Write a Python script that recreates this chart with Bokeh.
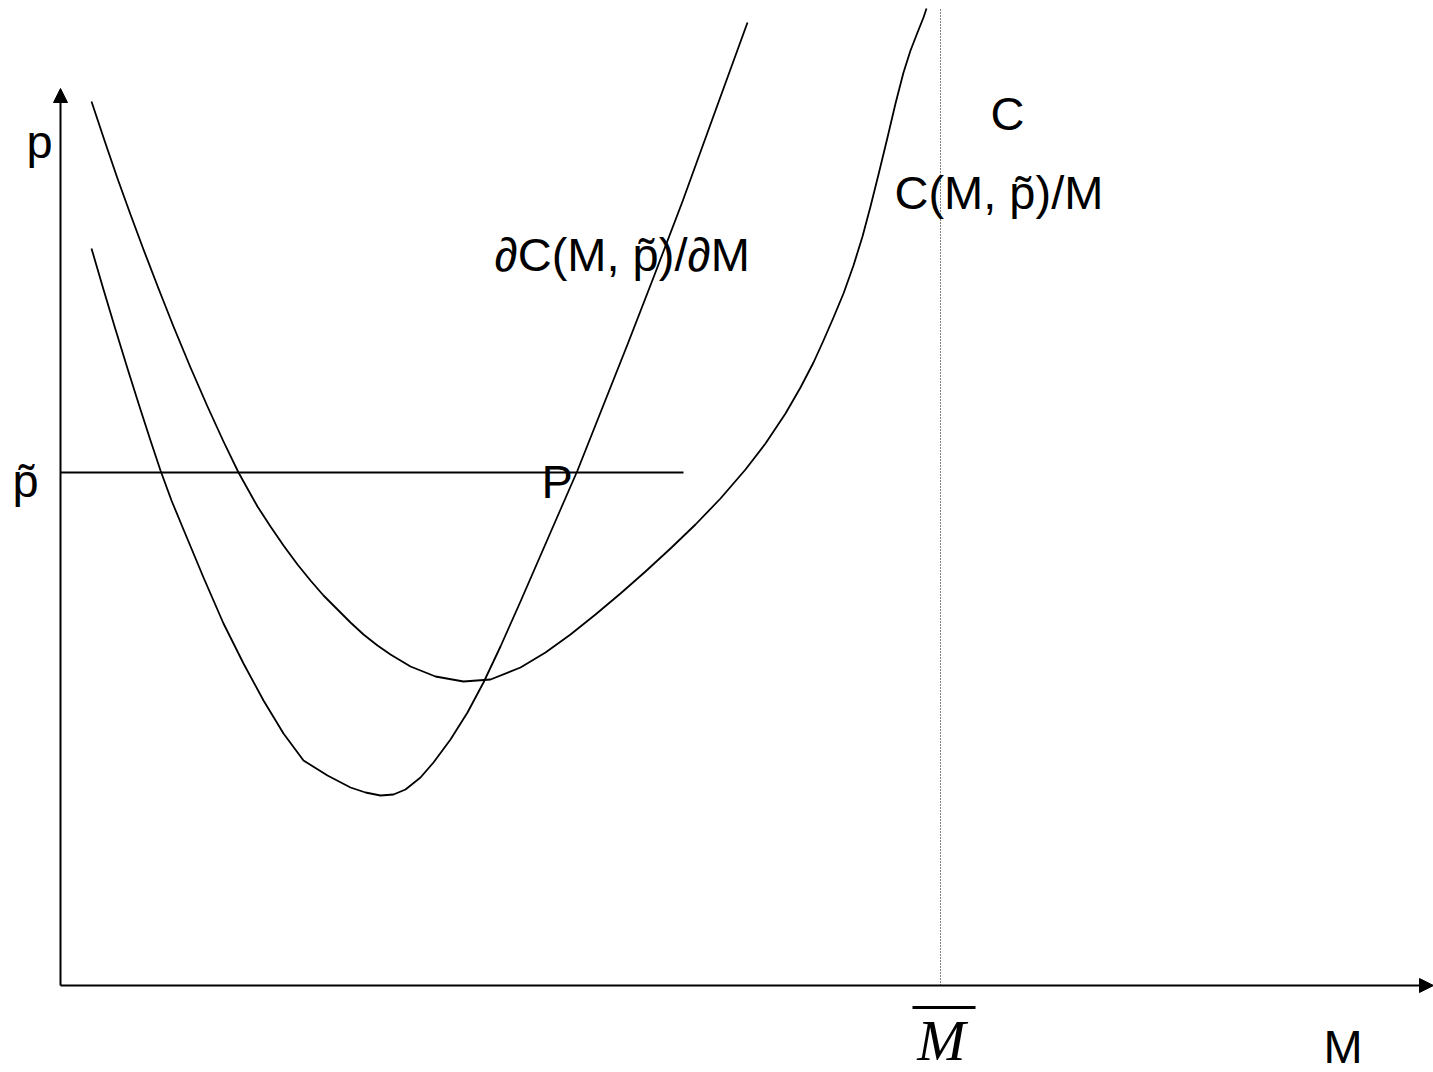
from bokeh.plotting import figure
from bokeh.models import Range1d, Arrow, NormalHead
from bokeh.core.properties import value
from bokeh.embed import file_html
from bokeh.resources import INLINE

# ---- data (M on horizontal axis, p on vertical axis, arbitrary units) ----
# marginal cost  dC(M, p~)/dM
mc_M = [31, 43, 55, 67, 79, 90, 100, 111, 123, 143, 163, 183, 203, 223, 243, 267, 290, 305, 320,
        333, 345, 360, 373, 390, 407, 423, 440, 460, 480, 500, 517, 540, 567, 593, 622, 655, 687]
mc_p = [737, 696, 656, 617, 579, 545, 515, 485, 456, 408, 362, 322, 285, 252, 225, 210, 198, 193, 190,
        191, 196, 208, 223, 246, 273, 303, 339, 384, 430, 476, 515, 573, 641, 708, 784, 875, 963]

# average cost  C(M, p~)/M
ac_M = [31, 44, 57, 70, 83, 98, 113, 130, 147, 163, 178, 197, 210, 223, 237, 250, 263, 277, 290,
        303, 317, 330, 350, 375, 403, 430, 460, 485, 510, 535, 560, 585, 610, 635, 660, 685, 705,
        725, 740, 753, 763, 773, 783, 793, 802, 810, 818, 827, 835, 843, 850, 857, 863, 866]
ac_p = [884, 845, 807, 771, 736, 697, 659, 618, 579, 544, 513, 479, 459, 440, 421, 405, 390, 376, 363,
        351, 340, 331, 319, 309, 304, 306, 318, 333, 351, 371, 392, 414, 437, 461, 487, 516, 542,
        572, 598, 623, 645, 668, 692, 720, 749, 779, 811, 848, 882, 913, 935, 953, 968, 977]

p_tilde = 513          # level of the horizontal price line
p_line_M = [0, 623]    # extent of the horizontal price line
M_bar = 880            # capacity limit (dotted vertical)
axis_M_max = 1373
axis_p_max = 897

TILDE_P = "p\u0303"
labels_text = ["p", TILDE_P, "P", "C", "C(M, " + TILDE_P + ")/M",
               "\u2202C(M, " + TILDE_P + ")/\u2202M", "M"]
labels_M = [-34, -48, 481, 930, 834, 434, 1263]
labels_p = [844, 505, 504, 872, 793, 731, -61]

# ---- figure ----
W, H = 1433, 1072
p = figure(width=W, height=H, output_backend="svg", toolbar_location=None,
           x_range=Range1d(-60, 1373), y_range=Range1d(-87, 985),
           min_border=0, min_border_left=0, min_border_right=0,
           min_border_top=0, min_border_bottom=0)
p.axis.visible = False
p.grid.visible = False
p.outline_line_color = None
p.background_fill_color = "white"
p.border_fill_color = "white"

# axes with arrow heads
p.add_layout(Arrow(end=NormalHead(size=14, fill_color="black", line_color="black", line_width=1),
                   x_start=0, y_start=0, x_end=0, y_end=axis_p_max,
                   line_width=2, line_color="black"))
p.add_layout(Arrow(end=NormalHead(size=14, fill_color="black", line_color="black", line_width=1),
                   x_start=0, y_start=0, x_end=axis_M_max, y_end=0,
                   line_width=2, line_color="black"))

# dotted vertical at M bar
p.line([M_bar, M_bar], [0, 978], line_color="black", line_width=1, line_dash="1 2")

# horizontal price line
p.line(p_line_M, [p_tilde, p_tilde], line_color="black", line_width=2)

# curves
p.line(mc_M, mc_p, line_color="black", line_width=1.8, line_join="round")
p.line(ac_M, ac_p, line_color="black", line_width=1.8, line_join="round")

# labels
p.text(x=labels_M, y=labels_p, text=labels_text, text_font=value("Liberation Sans"),
       text_font_size="47px", text_color="black", text_align="left", text_baseline="alphabetic")

# M bar label: italic serif M with an overline
p.text(x=[M_bar + 1], y=[-55], text=["M"], text_font=value("Liberation Serif"),
       text_font_style="italic", text_font_size="58px", text_color="black",
       text_align="center", text_baseline="alphabetic")
p.line([M_bar - 28, M_bar + 35], [-22, -22], line_color="black", line_width=3)

open("out.html", "w").write(file_html(p, INLINE))
